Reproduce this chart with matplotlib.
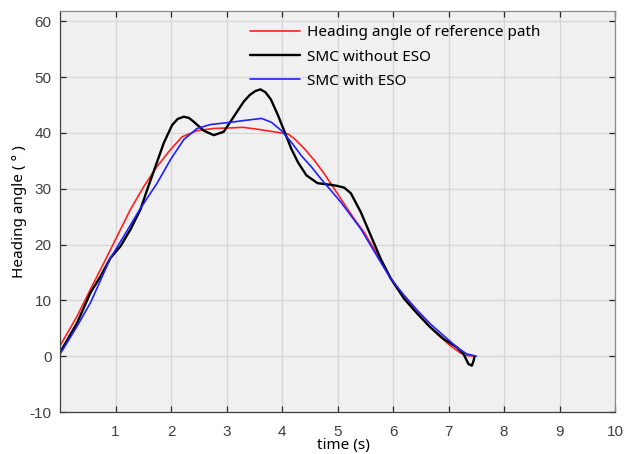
import matplotlib
matplotlib.use('Agg')
import matplotlib.pyplot as plt

plt.rcParams['axes.unicode_minus'] = False

# ---------------------------------------------------------------
# Data
# ---------------------------------------------------------------
t_ref = [0.0, 0.31, 0.55, 0.79, 1.03, 1.27, 1.51, 1.75, 1.99, 2.2, 2.47,
         2.77, 3.07, 3.3, 3.6, 3.85, 4.11, 4.23, 4.41, 4.59, 4.76, 4.94,
         5.12, 5.3, 5.48, 5.66, 5.84, 6.08, 6.32, 6.56, 6.79, 7.03, 7.21,
         7.33, 7.48]
y_ref = [1.85, 7.2, 12.0, 16.7, 21.5, 26.3, 30.4, 34.0, 37.0, 39.3, 40.4,
         40.8, 40.9, 41.0, 40.6, 40.2, 39.8, 38.9, 37.1, 35.0, 32.7, 30.0,
         27.3, 24.6, 22.2, 19.2, 15.9, 12.1, 9.1, 6.4, 4.0, 1.9, 0.6,
         0.1, 0.0]

t_smc = [0.0, 0.31, 0.55, 0.73, 0.91, 1.09, 1.27, 1.45, 1.57, 1.72, 1.87,
         2.02, 2.12, 2.23, 2.32, 2.41, 2.59, 2.77, 2.95, 3.13, 3.31, 3.42,
         3.52, 3.61, 3.7, 3.8, 3.93, 4.05, 4.17, 4.29, 4.44, 4.64, 4.88,
         5.0, 5.12, 5.24, 5.42, 5.6, 5.78, 5.96, 6.2, 6.44, 6.67, 6.91,
         7.15, 7.27, 7.36, 7.42, 7.45, 7.47]
y_smc = [0.65, 6.0, 11.4, 14.3, 17.6, 19.7, 22.7, 26.3, 29.8, 34.0, 38.2,
         41.4, 42.5, 42.9, 42.7, 42.0, 40.4, 39.6, 40.2, 42.9, 45.6, 46.8,
         47.5, 47.8, 47.3, 46.0, 43.1, 40.1, 37.1, 34.7, 32.4, 31.0, 30.7,
         30.5, 30.2, 29.2, 25.8, 21.6, 17.4, 13.9, 10.3, 7.6, 5.2, 3.1,
         1.6, 0.4, -1.4, -1.7, -0.9, 0.0]

t_eso = [0.0, 0.31, 0.55, 0.91, 1.15, 1.45, 1.75, 1.99, 2.23, 2.47, 2.71,
         3.07, 3.3, 3.55, 3.63, 3.81, 3.99, 4.17, 4.35, 4.53, 4.7, 4.88,
         5.06, 5.24, 5.42, 5.6, 5.78, 5.96, 6.2, 6.44, 6.67, 6.91, 7.15,
         7.33, 7.5]
y_eso = [0.36, 5.4, 9.6, 17.6, 21.5, 26.5, 31.0, 35.2, 38.8, 40.8, 41.5,
         41.9, 42.2, 42.5, 42.6, 41.9, 40.4, 38.3, 35.9, 33.9, 31.8, 29.7,
         27.6, 25.2, 22.8, 19.8, 16.8, 13.9, 10.9, 8.2, 5.8, 3.7, 1.6,
         0.4, 0.0]

labels = ['Heading angle of reference path', 'SMC without ESO', 'SMC with ESO']
x_ticks = [1, 2, 3, 4, 5, 6, 7, 8, 9, 10]
y_ticks = [-10, 0, 10, 20, 30, 40, 50, 60]

# ---------------------------------------------------------------
# Plot
# ---------------------------------------------------------------
fig = plt.figure(figsize=(6.25, 4.54), dpi=100)
ax = fig.add_axes([0.096, 0.0925, 0.888, 0.884])
ax.set_facecolor('#f0f0f0')

kw = dict(solid_joinstyle='round', solid_capstyle='round')
ax.plot(t_ref, y_ref, color='#ff2020', lw=1.2, label=labels[0], **kw)
ax.plot(t_smc, y_smc, color='black', lw=1.7, label=labels[1], **kw)
ax.plot(t_eso, y_eso, color='#2020ff', lw=1.2, label=labels[2], **kw)

ax.set_xlim(0, 10)
ax.set_ylim(-10, 61.9)
ax.set_xticks(x_ticks)
ax.set_yticks(y_ticks)
ax.grid(True, color='#d6d6d6', lw=0.9)
ax.set_axisbelow(True)

ax.tick_params(direction='in', length=4, width=0.9, colors='#262626',
               top=True, right=True, labelsize=11, labelcolor='#404040')
ax.tick_params(axis='x', pad=9)
ax.tick_params(axis='y', pad=6)
for lab in ax.get_xticklabels() + ax.get_yticklabels():
    lab.set_family('Liberation Sans')
for s in ax.spines.values():
    s.set_color('#8a8a8a')
    s.set_linewidth(0.9)
ax.spines['left'].set_color('#404040')
ax.spines['bottom'].set_color('#404040')

ax.set_xlabel('time (s)', fontsize=11, family='Noto Sans')
ax.set_ylabel('Heading angle ( ° )', fontsize=11, family='Noto Sans', labelpad=2)
ax.xaxis.set_label_coords(0.51, -0.065)

ax.legend(loc='upper left', bbox_to_anchor=(0.323, 0.99), frameon=False,
          prop={'family': 'Noto Sans', 'size': 11}, handlelength=3.3,
          handletextpad=0.45, labelspacing=0.6, borderaxespad=0.3)

fig.savefig('out.png', dpi=100)
